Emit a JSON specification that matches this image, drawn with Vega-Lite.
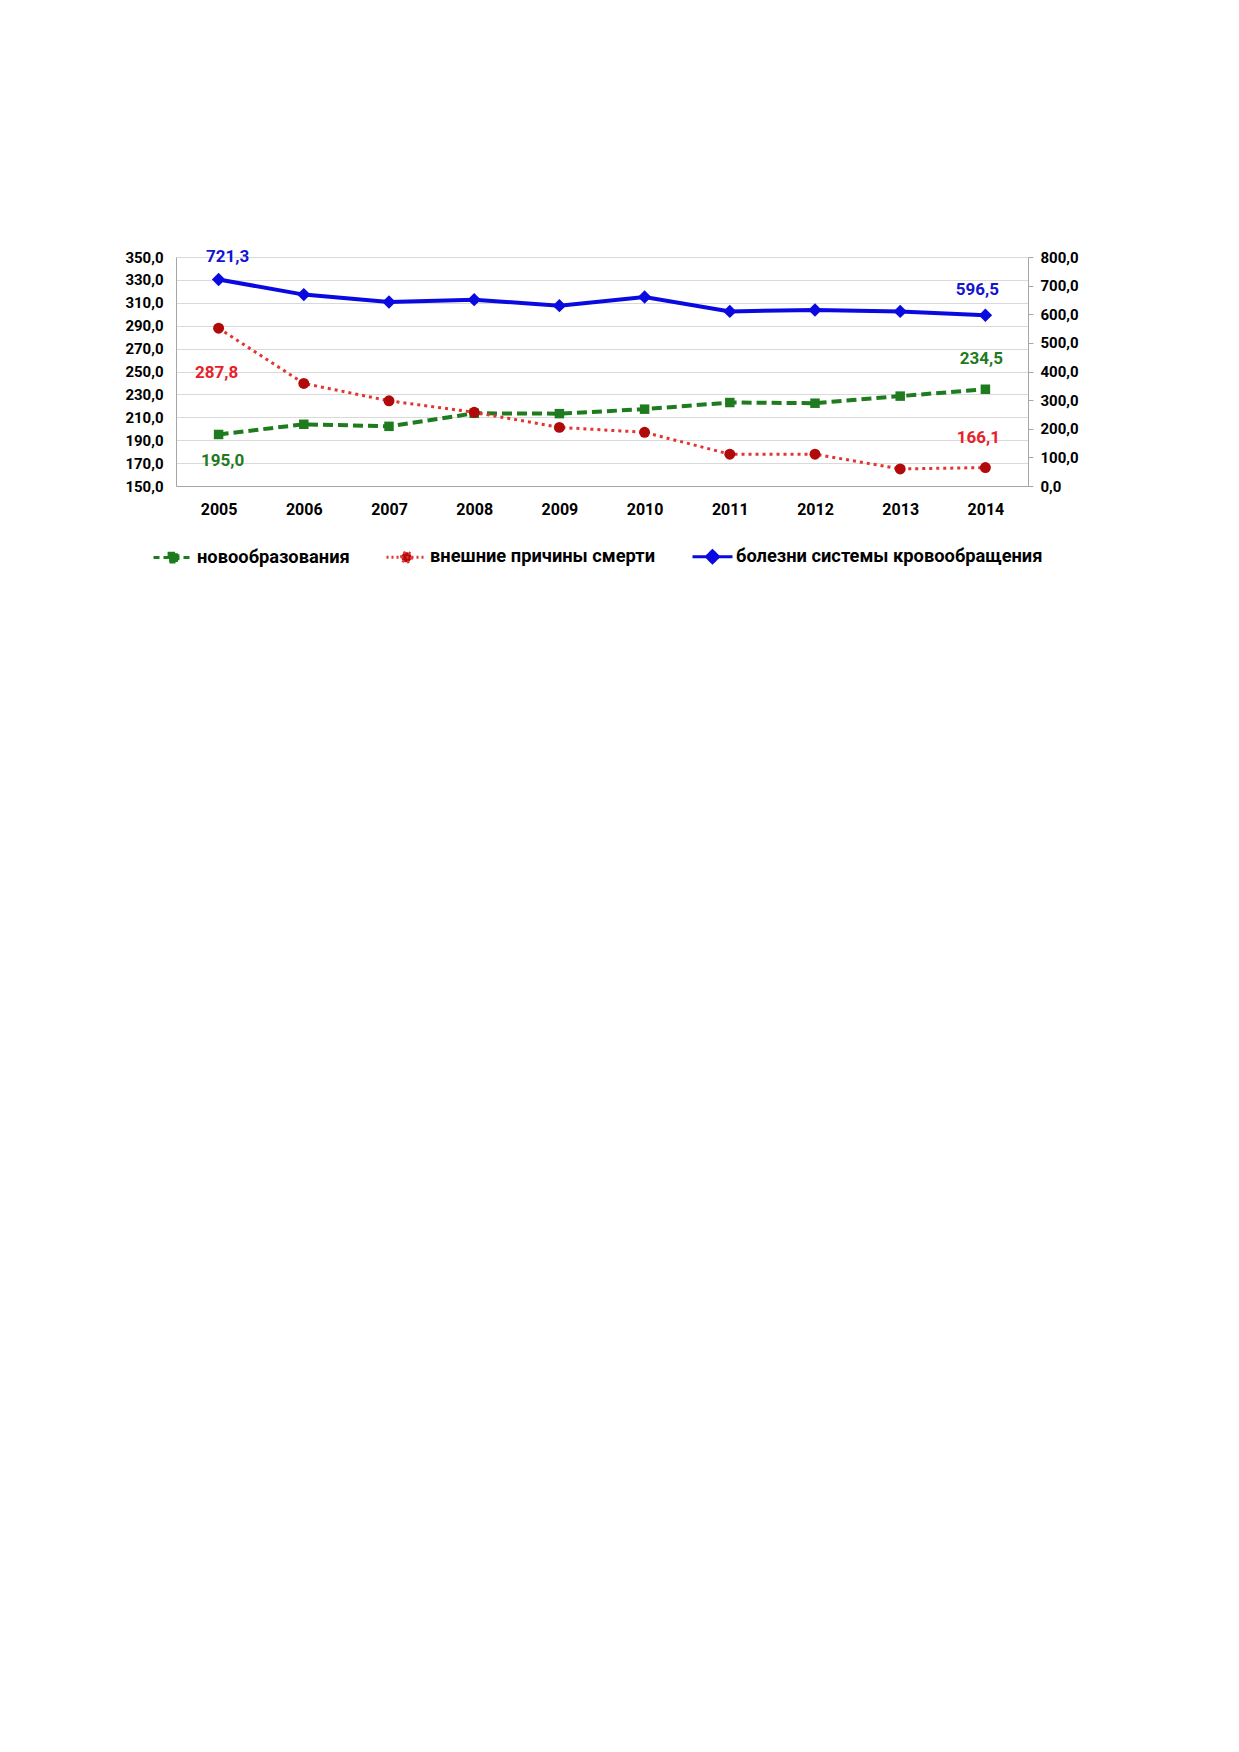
{
  "$schema": "https://vega.github.io/schema/vega-lite/v6.json",
  "description": "Смертность по основным причинам, 2005-2014",
  "autosize": {"type": "none"},
  "padding": {"left": 176, "top": 257, "right": 60, "bottom": 500},
  "width": 852,
  "height": 229,
  "data": {
    "values": [
      {"year": "2005", "series": "новообразования", "value": 195.0},
      {"year": "2006", "series": "новообразования", "value": 203.9},
      {"year": "2007", "series": "новообразования", "value": 202.1},
      {"year": "2008", "series": "новообразования", "value": 213.5},
      {"year": "2009", "series": "новообразования", "value": 213.2},
      {"year": "2010", "series": "новообразования", "value": 217.1},
      {"year": "2011", "series": "новообразования", "value": 222.9},
      {"year": "2012", "series": "новообразования", "value": 222.3},
      {"year": "2013", "series": "новообразования", "value": 228.5},
      {"year": "2014", "series": "новообразования", "value": 234.5},
      {"year": "2005", "series": "внешние причины смерти", "value": 287.8},
      {"year": "2006", "series": "внешние причины смерти", "value": 239.6},
      {"year": "2007", "series": "внешние причины смерти", "value": 224.4},
      {"year": "2008", "series": "внешние причины смерти", "value": 214.4},
      {"year": "2009", "series": "внешние причины смерти", "value": 201.2},
      {"year": "2010", "series": "внешние причины смерти", "value": 196.9},
      {"year": "2011", "series": "внешние причины смерти", "value": 177.8},
      {"year": "2012", "series": "внешние причины смерти", "value": 177.8},
      {"year": "2013", "series": "внешние причины смерти", "value": 164.9},
      {"year": "2014", "series": "внешние причины смерти", "value": 166.1},
      {"year": "2005", "series": "болезни системы кровообращения", "value": 721.3},
      {"year": "2006", "series": "болезни системы кровообращения", "value": 668.6},
      {"year": "2007", "series": "болезни системы кровообращения", "value": 643.0},
      {"year": "2008", "series": "болезни системы кровообращения", "value": 651.0},
      {"year": "2009", "series": "болезни системы кровообращения", "value": 630.0},
      {"year": "2010", "series": "болезни системы кровообращения", "value": 660.0},
      {"year": "2011", "series": "болезни системы кровообращения", "value": 610.0},
      {"year": "2012", "series": "болезни системы кровообращения", "value": 615.0},
      {"year": "2013", "series": "болезни системы кровообращения", "value": 610.0},
      {"year": "2014", "series": "болезни системы кровообращения", "value": 596.5}
    ]
  },
  "encoding": {
    "x": {
      "field": "year",
      "type": "ordinal",
      "scale": {"type": "point", "padding": 0.5},
      "axis": {
        "title": null,
        "labelAngle": 0,
        "ticks": false,
        "tickSize": 0,
        "labelPadding": 15,
        "labelFontSize": 16,
        "domainColor": "#A6A6A6",
        "grid": false
      }
    }
  },
  "layer": [
    {
      "encoding": {
        "y": {
          "field": "value",
          "type": "quantitative",
          "scale": {"domain": [150, 350], "zero": false, "nice": false},
          "axis": {
            "title": null,
            "orient": "left",
            "values": [150, 170, 190, 210, 230, 250, 270, 290, 310, 330, 350],
            "format": ".1f",
            "ticks": false,
            "tickSize": 0,
            "labelPadding": 13,
            "labelFontSize": 15,
            "domainColor": "#A6A6A6",
            "grid": true,
            "gridColor": "#D9D9D9"
          }
        }
      },
      "layer": [
        {
          "transform": [{"filter": "datum.series === 'новообразования'"}],
          "mark": {"type": "line", "color": "#1E7B1E", "strokeWidth": 4, "strokeDash": [10, 5]}
        },
        {
          "transform": [{"filter": "datum.series === 'новообразования'"}],
          "mark": {"type": "point", "shape": "square", "filled": true, "opacity": 1, "size": 90, "color": "#1E7B1E"}
        },
        {
          "transform": [{"filter": "datum.series === 'внешние причины смерти'"}],
          "mark": {"type": "line", "color": "#E3342F", "strokeWidth": 3, "strokeDash": [3, 4]}
        },
        {
          "transform": [{"filter": "datum.series === 'внешние причины смерти'"}],
          "mark": {"type": "point", "shape": "circle", "filled": true, "opacity": 1, "size": 120, "color": "#B00A0A"}
        },
        {
          "transform": [{"filter": "datum.series === 'новообразования' && datum.year === '2005'"}],
          "mark": {"type": "text", "dx": 4, "dy": 27, "fontSize": 17, "fontWeight": "bold", "color": "#1E7B1E"},
          "encoding": {"text": {"field": "value", "type": "quantitative", "format": ".1f"}}
        },
        {
          "transform": [{"filter": "datum.series === 'новообразования' && datum.year === '2014'"}],
          "mark": {"type": "text", "dx": -4, "dy": -30, "fontSize": 17, "fontWeight": "bold", "color": "#1E7B1E"},
          "encoding": {"text": {"field": "value", "type": "quantitative", "format": ".1f"}}
        },
        {
          "transform": [{"filter": "datum.series === 'внешние причины смерти' && datum.year === '2005'"}],
          "mark": {"type": "text", "dx": -2, "dy": 45, "fontSize": 17, "fontWeight": "bold", "color": "#E8202A"},
          "encoding": {"text": {"field": "value", "type": "quantitative", "format": ".1f"}}
        },
        {
          "transform": [{"filter": "datum.series === 'внешние причины смерти' && datum.year === '2014'"}],
          "mark": {"type": "text", "dx": -7, "dy": -30, "fontSize": 17, "fontWeight": "bold", "color": "#E8202A"},
          "encoding": {"text": {"field": "value", "type": "quantitative", "format": ".1f"}}
        }
      ]
    },
    {
      "encoding": {
        "y": {
          "field": "value",
          "type": "quantitative",
          "scale": {"domain": [0, 800], "nice": false},
          "axis": {
            "title": null,
            "orient": "right",
            "values": [0, 100, 200, 300, 400, 500, 600, 700, 800],
            "format": ".1f",
            "ticks": true,
            "tickSize": 5,
            "tickColor": "#A6A6A6",
            "labelPadding": 7,
            "labelFontSize": 15,
            "domainColor": "#A6A6A6",
            "grid": false
          }
        }
      },
      "layer": [
        {
          "transform": [{"filter": "datum.series === 'болезни системы кровообращения'"}],
          "mark": {"type": "line", "color": "#0A0AE0", "strokeWidth": 4}
        },
        {
          "transform": [{"filter": "datum.series === 'болезни системы кровообращения'"}],
          "mark": {"type": "point", "shape": "diamond", "filled": true, "opacity": 1, "size": 180, "color": "#0A0AE0"}
        },
        {
          "transform": [{"filter": "datum.series === 'болезни системы кровообращения' && datum.year === '2005'"}],
          "mark": {"type": "text", "dx": 9, "dy": -23, "fontSize": 17, "fontWeight": "bold", "color": "#1414D2"},
          "encoding": {"text": {"field": "value", "type": "quantitative", "format": ".1f"}}
        },
        {
          "transform": [{"filter": "datum.series === 'болезни системы кровообращения' && datum.year === '2014'"}],
          "mark": {"type": "text", "dx": -8, "dy": -25, "fontSize": 17, "fontWeight": "bold", "color": "#1414D2"},
          "encoding": {"text": {"field": "value", "type": "quantitative", "format": ".1f"}}
        },
        {
          "mark": {"type": "point", "filled": true, "opacity": 0, "strokeWidth": 3},
          "encoding": {
            "fill": {
              "field": "series",
              "type": "nominal",
              "scale": {
                "domain": ["новообразования", "внешние причины смерти", "болезни системы кровообращения"],
                "range": ["#1E7B1E", "#B00A0A", "#0A0AE0"]
              },
              "legend": {
                "title": null,
                "orient": "none",
                "legendX": -24,
                "legendY": 278,
                "direction": "horizontal",
                "columns": 3,
                "columnPadding": 30,
                "padding": 0,
                "symbolSize": 1600,
                "symbolStrokeWidth": 3,
                "symbolOpacity": 1,
                "labelOffset": 2,
                "labelFontSize": 18.3,
                "labelFontWeight": "bold",
                "labelColor": "#000000",
                "labelLimit": 400,
                "encode": {
                  "symbols": {
                    "update": {
                      "opacity": {"value": 1},
                      "fillOpacity": {"value": 1},
                      "strokeOpacity": {"value": 1}
                    }
                  }
                }
              }
            },
            "stroke": {
              "field": "series",
              "type": "nominal",
              "scale": {
                "domain": ["новообразования", "внешние причины смерти", "болезни системы кровообращения"],
                "range": ["#1E7B1E", "#E3342F", "#0A0AE0"]
              }
            },
            "shape": {
              "field": "series",
              "type": "nominal",
              "scale": {
                "domain": ["новообразования", "внешние причины смерти", "болезни системы кровообращения"],
                "range": [
                  "M-1,0H1M-0.22,-0.22H0.22V0.22H-0.22Z",
                  "M-1,0H1M0.25,0A0.25,0.25,0,1,1,-0.25,0A0.25,0.25,0,1,1,0.25,0Z",
                  "M-1,0H1M0,-0.3L0.3,0L0,0.3L-0.3,0Z"
                ]
              }
            },
            "strokeDash": {
              "field": "series",
              "type": "nominal",
              "scale": {
                "domain": ["новообразования", "внешние причины смерти", "болезни системы кровообращения"],
                "range": [[6, 4], [2, 3], [1, 0]]
              }
            }
          }
        }
      ]
    }
  ],
  "resolve": {"scale": {"y": "independent"}, "axis": {"y": "independent"}},
  "config": {
    "font": "Roboto, sans-serif",
    "locale": {
      "number": {"decimal": ",", "thousands": " ", "grouping": [3], "currency": ["", ""]}
    },
    "view": {"stroke": null},
    "axis": {
      "labelFont": "Roboto, sans-serif",
      "labelFontWeight": "bold",
      "labelColor": "#000000"
    },
    "text": {"font": "Roboto, sans-serif"},
    "legend": {"labelFont": "Roboto, sans-serif"}
  }
}
